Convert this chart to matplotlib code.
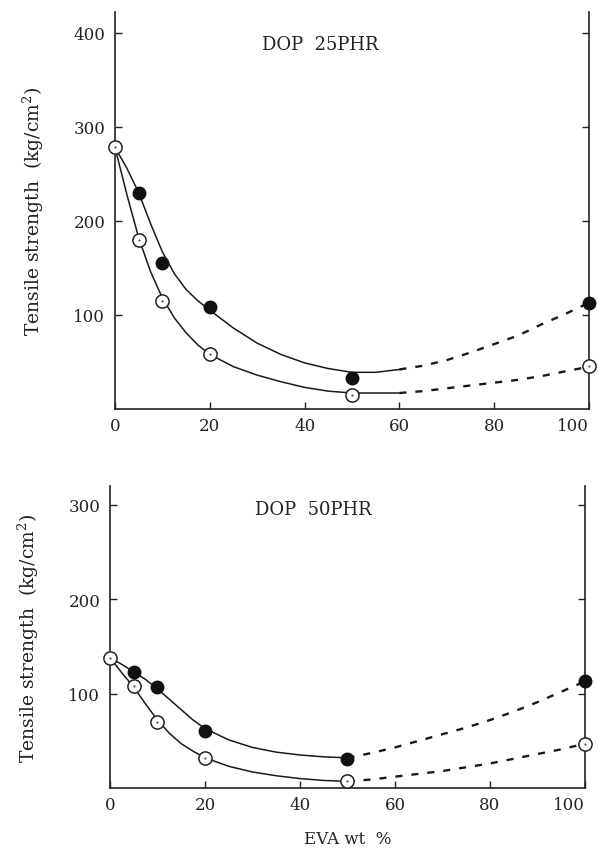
import matplotlib
matplotlib.use("Agg")
import matplotlib.pyplot as plt

# ---------------- data ----------------
# Panel 1 : DOP 25PHR
p1_filled_x = [5, 10, 20, 50, 100]
p1_filled_y = [230, 155, 108, 33, 113]
p1_open_x = [0, 5, 10, 20, 50, 100]
p1_open_y = [278, 180, 115, 58, 15, 46]

p1_fcurve_x = [0, 2.5, 5, 7.5, 10, 12.5, 15, 17.5, 20, 25, 30, 35, 40, 45, 50, 55, 60]
p1_fcurve_y = [278, 256, 230, 197, 167, 144, 127, 115, 105, 86, 70, 58, 49, 43, 39, 39, 42]
p1_fdash_x = [60, 65, 70, 75, 80, 85, 90, 95, 100]
p1_fdash_y = [42, 46, 52, 60, 69, 78, 90, 101, 113]

p1_ocurve_x = [0, 2.5, 5, 7.5, 10, 12.5, 15, 17.5, 20, 25, 30, 35, 40, 45, 50, 55, 60]
p1_ocurve_y = [278, 228, 182, 146, 118, 97, 81, 68, 58, 45, 36, 29, 23, 19, 17, 17, 17]
p1_odash_x = [60, 65, 70, 75, 80, 85, 90, 95, 100]
p1_odash_y = [17, 19, 22, 25, 28, 31, 35, 40, 45]

# Panel 2 : DOP 50PHR
p2_filled_x = [5, 10, 20, 50, 100]
p2_filled_y = [123, 107, 60, 31, 113]
p2_open_x = [0, 5, 10, 20, 50, 100]
p2_open_y = [138, 108, 70, 32, 7, 47]

p2_fcurve_x = [0, 2.5, 5, 7.5, 10, 12.5, 15, 17.5, 20, 25, 30, 35, 40, 45, 50]
p2_fcurve_y = [138, 131, 123, 115, 105, 94, 83, 72, 63, 51, 43, 38, 35, 33, 32]
p2_fdash_x = [50, 55, 60, 65, 70, 75, 80, 85, 90, 95, 100]
p2_fdash_y = [32, 37, 43, 50, 57, 64, 72, 81, 91, 102, 113]

p2_ocurve_x = [0, 2.5, 5, 7.5, 10, 12.5, 15, 17.5, 20, 25, 30, 35, 40, 45, 50]
p2_ocurve_y = [138, 122, 107, 89, 72, 58, 47, 39, 32, 23, 17, 13, 10, 8, 7]
p2_odash_x = [50, 55, 60, 65, 70, 75, 80, 85, 90, 95, 100]
p2_odash_y = [7, 9, 12, 15, 18, 22, 26, 31, 36, 41, 47]

x_ticks = [0, 20, 40, 60, 80, 100]
p1_yticks = [100, 200, 300, 400]
p2_yticks = [100, 200, 300]
p1_title = "DOP  25PHR"
p2_title = "DOP  50PHR"
y_label = "Tensile strength  (kg/cm$^2$)"
x_label = "EVA wt  %"

# ---------------- drawing ----------------
SERIF = ["DejaVu Serif", "Liberation Serif"]
plt.rcParams["font.family"] = SERIF
plt.rcParams["mathtext.fontset"] = "dejavuserif"

fig = plt.figure(figsize=(5.98, 8.54), dpi=100)
ax1 = fig.add_axes([0.1923, 0.5199, 0.7926, 0.4649])
ax2 = fig.add_axes([0.1839, 0.0761, 0.7943, 0.3536])

def panel(ax, ylim, yticks, title, tx, ty, fx, fy, ox, oy,
          fcx, fcy, fdx, fdy, ocx, ocy, odx, ody, ylpad):
    lc = "#1a1a1a"
    ax.plot(fcx, fcy, color=lc, lw=1.1, solid_capstyle="round")
    ax.plot(ocx, ocy, color=lc, lw=1.1, solid_capstyle="round")
    ax.plot(fdx, fdy, color=lc, lw=1.7, dashes=(3.0, 3.8), clip_on=False)
    ax.plot(odx, ody, color=lc, lw=1.7, dashes=(3.0, 3.8), clip_on=False)
    ax.plot(fx, fy, "o", ms=9, mfc="#111111", mec="#111111", mew=1, clip_on=False, zorder=5)
    ax.plot(ox, oy, "o", ms=9.5, mfc="white", mec="#222222", mew=1.1, clip_on=False, zorder=5)
    ax.plot(ox, oy, "o", ms=1.6, mfc="#555555", mec="none", clip_on=False, zorder=6)
    ax.set_xlim(0, 100)
    ax.set_ylim(*ylim)
    ax.set_xticks(x_ticks)
    ax.set_yticks(yticks)
    ax.spines["top"].set_visible(False)
    for s in ("left", "right", "bottom"):
        ax.spines[s].set_linewidth(1.2)
        ax.spines[s].set_color("#222222")
    ax.tick_params(axis="both", direction="in", length=5, width=1.0,
                   labelsize=12, colors="#222222", pad=6)
    ax.tick_params(axis="y", right=True, labelright=False, pad=7)
    ax.xaxis.get_major_ticks()[-1].label1.set_horizontalalignment("right")
    ax.text(tx, ty, title, fontsize=13, color="#222222", va="center", ha="left")
    ax.set_ylabel(y_label, fontsize=13.5, color="#222222", labelpad=ylpad)

panel(ax1, (0, 422), p1_yticks, p1_title, 31, 388,
      p1_filled_x, p1_filled_y, p1_open_x, p1_open_y,
      p1_fcurve_x, p1_fcurve_y, p1_fdash_x, p1_fdash_y,
      p1_ocurve_x, p1_ocurve_y, p1_odash_x, p1_odash_y, 20)
panel(ax2, (0, 320), p2_yticks, p2_title, 30.5, 296,
      p2_filled_x, p2_filled_y, p2_open_x, p2_open_y,
      p2_fcurve_x, p2_fcurve_y, p2_fdash_x, p2_fdash_y,
      p2_ocurve_x, p2_ocurve_y, p2_odash_x, p2_odash_y, 20)

ax2.set_xlabel(x_label, fontsize=12, color="#222222", labelpad=12)

fig.savefig("out.png", dpi=100)
